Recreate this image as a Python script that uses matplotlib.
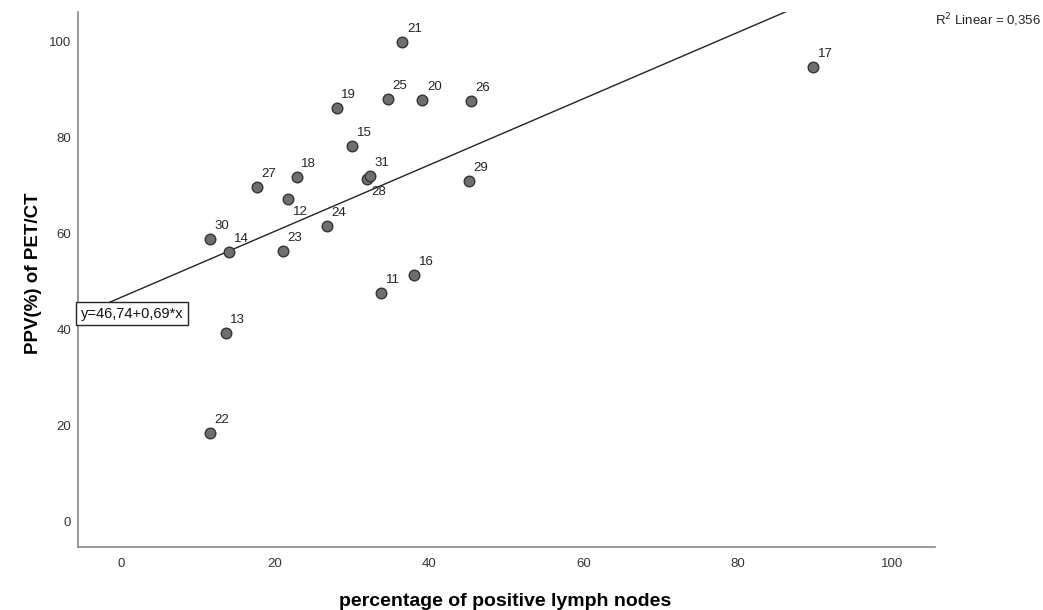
import matplotlib.pyplot as plt

plt.rcParams['font.family'] = ['Liberation Sans', 'DejaVu Sans']

# percentage of positive lymph nodes vs PPV(%) of PET/CT, per case id
case_ids = [11, 12, 13, 14, 15, 16, 17, 18, 19, 20, 21,
            22, 23, 24, 25, 26, 27, 28, 29, 30, 31]
pct_positive = [33.7, 21.7, 13.6, 14.0, 30.0, 38.0, 89.8, 22.8, 28.0, 39.1, 36.5,
                11.5, 21.0, 26.7, 34.6, 45.4, 17.6, 31.9, 45.1, 11.5, 32.3]
ppv = [47.6, 67.2, 39.3, 56.1, 78.3, 51.5, 94.7, 71.75, 86.25, 87.8, 100.0,
       18.5, 56.5, 61.6, 88.1, 87.6, 69.7, 71.5, 70.9, 58.8, 72.0]
below_labels = [12, 28]  # labels drawn under the point

intercept = 46.74
slope = 0.69
r2_text = "R$^2$ Linear = 0,356"
fit_text = "y=46,74+0,69*x"

xticks = [0, 20, 40, 60, 80, 100]
yticks = [0, 20, 40, 60, 80, 100]

fig = plt.figure(figsize=(10.43, 6.10), dpi=100)
ax = fig.add_axes([78 / 1043, 63 / 610, 857 / 1043, 535 / 610])

xlim = (-5.58, 105.6)
ylim = (-5.27, 106.2)
ax.set_xlim(*xlim)
ax.set_ylim(*ylim)

# fit line, clipped by the axes
ax.plot(xlim, [intercept + slope * v for v in xlim], color='#222222', lw=1.0, zorder=2)

ax.scatter(pct_positive, ppv, s=58, facecolor='#6f6f6f', edgecolor='#333333',
           linewidth=1.0, zorder=3)

for cid, xv, yv in zip(case_ids, pct_positive, ppv):
    dy = -13 if cid in below_labels else 13
    ax.annotate(str(cid), (xv, yv), xytext=(12, dy), textcoords='offset pixels',
                ha='center', va='center', fontsize=9.5, color='#222222', zorder=4)

# equation box at the left edge
ax.text(0.003, 0.436, fit_text, transform=ax.transAxes, fontsize=10.5,
        ha='left', va='center', color='#111111', zorder=5,
        bbox=dict(boxstyle='square,pad=0.3', facecolor='white',
                  edgecolor='#222222', linewidth=1.0))

fig.text(0.998, 0.967, r2_text, ha='right', va='center', fontsize=9.5, color='#222222')

ax.set_xticks(xticks)
ax.set_yticks(yticks)
ax.tick_params(length=0, labelsize=9.5, labelcolor='#333333')
ax.tick_params(axis='x', pad=8)
ax.tick_params(axis='y', pad=5)
for side in ['top', 'right']:
    ax.spines[side].set_visible(False)
for side in ['left', 'bottom']:
    ax.spines[side].set_color('#888888')
    ax.spines[side].set_linewidth(1.2)

fig.text(505 / 1043, 1 - 601 / 610, "percentage of positive lymph nodes",
         ha='center', va='center', fontsize=14, fontweight='bold')
fig.text(33.5 / 1043, 1 - 273 / 610, "PPV(%) of PET/CT", rotation=90,
         ha='center', va='center', fontsize=13.5, fontweight='bold')

fig.savefig('out.png', dpi=100)
